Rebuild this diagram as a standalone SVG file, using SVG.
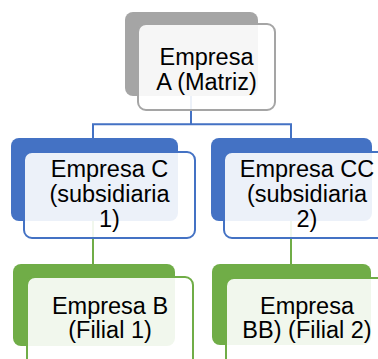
<svg xmlns="http://www.w3.org/2000/svg" width="378" height="359" viewBox="0 0 378 359">
<style>
.t{font-family:"Liberation Sans",Arial,sans-serif;font-size:23.5px;fill:#000;text-anchor:middle}
.front{fill:#fff;fill-opacity:0.9;stroke-width:2}
.gray .back{fill:#a5a5a5}.gray .front{stroke:#a5a5a5}
.blue .back{fill:#4472c4}.blue .front{stroke:#4472c4}
.green .back{fill:#70ad47}.green .front{stroke:#70ad47}
.c{fill:none;stroke-width:2}
</style>
<rect width="378" height="359" fill="#fff"/>
<g id="connectors">
<path class="c" stroke="#4472c4" d="M191 96V124.3M93 138V124.3H291V138"/>
<path class="c" stroke="#70ad47" d="M93 221V264M291 221V264"/>
</g>
<g id="nodeA" class="gray">
<rect class="back" x="125" y="12" width="133" height="84" rx="8"/>
<rect class="front" x="138" y="24" width="137" height="86" rx="8"/>
<text class="t" x="206.5" y="65">Empresa</text>
<text class="t" x="206.5" y="90">A (Matriz)</text>
</g>
<g id="nodeC" class="blue">
<rect class="back" x="11" y="138" width="167" height="83" rx="8"/>
<rect class="front" x="24" y="152" width="171" height="86" rx="8"/>
<text class="t" x="109.5" y="177">Empresa C</text>
<text class="t" x="109.5" y="202">(subsidiaria</text>
<text class="t" x="109.5" y="227">1)</text>
</g>
<g id="nodeCC" class="blue">
<rect class="back" x="211" y="138" width="161" height="83" rx="8"/>
<rect class="front" x="224" y="152" width="168" height="86" rx="8"/>
<text class="t" x="307" y="177">Empresa CC</text>
<text class="t" x="307" y="202">(subsidiaria</text>
<text class="t" x="307" y="227">2)</text>
</g>
<g id="nodeB" class="green">
<rect class="back" x="13" y="264" width="162" height="82" rx="8"/>
<rect class="front" x="27" y="277" width="166" height="90" rx="8"/>
<text class="t" x="110" y="313.5">Empresa B</text>
<text class="t" x="110" y="338">(Filial 1)</text>
</g>
<g id="nodeBB" class="green">
<rect class="back" x="212" y="264" width="159" height="81" rx="8"/>
<rect class="front" x="226" y="278" width="164" height="90" rx="8"/>
<text class="t" x="307" y="313.5">Empresa</text>
<text class="t" x="307" y="338">BB) (Filial 2)</text>
</g>
</svg>
